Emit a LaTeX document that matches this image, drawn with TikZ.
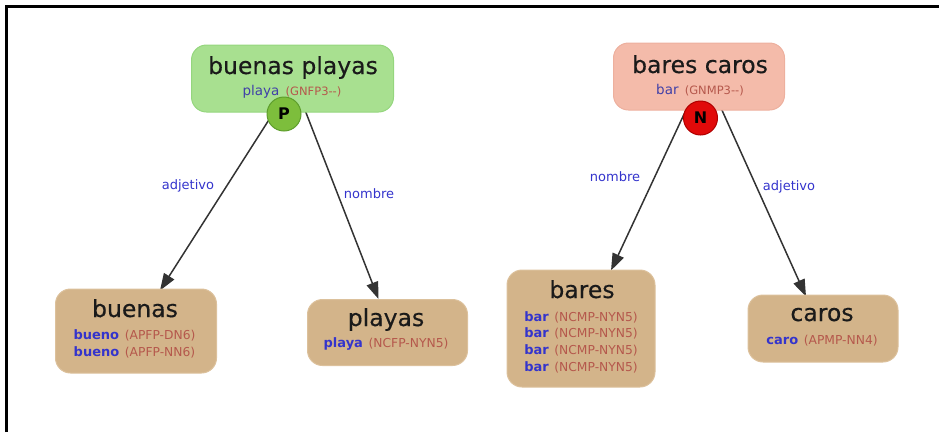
\documentclass[tikz,border=0pt]{standalone}
\usepackage{fontspec}
\setmainfont{DejaVu Sans}
\usetikzlibrary{arrows.meta,calc}
\definecolor{gfill}{HTML}{A8E090}
\definecolor{gdraw}{HTML}{95D67E}
\definecolor{pfill}{HTML}{7DBE3C}
\definecolor{pdraw}{HTML}{5E9E2C}
\definecolor{sfill}{HTML}{F4BBAA}
\definecolor{sdraw}{HTML}{EDB09E}
\definecolor{nfill}{HTML}{E10A0A}
\definecolor{ndraw}{HTML}{B00000}
\definecolor{tfill}{HTML}{D3B48A}
\definecolor{tdraw}{HTML}{DCC19C}
\definecolor{wblue}{HTML}{3434CC}
\definecolor{wtop}{HTML}{4040A8}
\definecolor{wcode}{HTML}{B5584C}
\definecolor{ttl}{HTML}{1A1A1A}
\definecolor{edgec}{HTML}{333333}
\newfontfamily\ttlfont[FakeBold=0.4]{DejaVu Sans}
\pgfdeclarelayer{bg}
\pgfsetlayers{bg,main}
\tikzset{
 box/.style={rectangle, rounded corners=15pt, line width=1pt, inner sep=0pt},
 ttlt/.style={anchor=base, text=ttl, font=\ttlfont\fontsize{23.5}{26}\selectfont, inner sep=0pt},
 subt/.style={anchor=base, inner sep=0pt, font=\fontsize{12.5}{14}\selectfont},
 circ/.style={circle, minimum size=34pt, inner sep=0pt, line width=1pt, text=black, font=\fontsize{16}{18}\selectfont\bfseries},
 rel/.style={text=wblue, font=\fontsize{13}{15}\selectfont, inner sep=0pt},
 conn/.style={draw=edgec, line width=1.5pt, -{Triangle[length=17pt,width=12pt]}},
}
\newcommand{\wl}[2]{{\color{wblue}\bfseries\fontsize{13}{15}\selectfont #1}\hspace{0.45em}{\color{wcode}\fontsize{12.3}{14}\selectfont (#2)}}
\newcommand{\wt}[2]{{\color{wtop}\fontsize{13.5}{15}\selectfont #1}\hspace{0.5em}{\color{wcode}\fontsize{11.5}{13}\selectfont (#2)}}
\begin{document}
\begin{tikzpicture}[x=1pt,y=-1pt]
\useasboundingbox (0,0) rectangle (939,432);
\draw[line width=2.5pt] (6.5,432) -- (6.5,6.5) -- (939,6.5);

% top nodes
\node[box, fill=gfill, draw=gdraw, minimum width=202pt, minimum height=67pt] (gp) at (292.5,78.5) {};
\node[ttlt] (gpt) at (293,74) {buenas playas};
\node[subt] (gps) at (292,95.5) {\wt{playa}{GNFP3-{}-}};
\node[circ, fill=pfill, draw=pdraw] (P) at (284,114) {P};

\node[box, fill=sfill, draw=sdraw, minimum width=171pt, minimum height=67pt] (bc) at (699,76.5) {};
\node[ttlt] (bct) at (700,73) {bares caros};
\node[subt] (bcs) at (700,94) {\wt{bar}{GNMP3-{}-}};
\node[circ, fill=nfill, draw=ndraw] (N) at (700.5,118) {N};

% leaf nodes
\node[box, fill=tfill, draw=tdraw, minimum width=161pt, minimum height=84pt] (buenas) at (136,331) {};
\node[ttlt] (buenast) at (135,317) {buenas};
\node[subt] (buenas1) at (134.5,339.5) {\wl{bueno}{APFP-DN6}};
\node[subt] (buenas2) at (134.5,356.5) {\wl{bueno}{APFP-NN6}};

\node[box, fill=tfill, draw=tdraw, minimum width=160pt, minimum height=66pt] (playas) at (387.5,332.5) {};
\node[ttlt] (playast) at (386,326) {playas};
\node[subt] (playas1) at (386,347.5) {\wl{playa}{NCFP-NYN5}};

\node[box, fill=tfill, draw=tdraw, minimum width=148pt, minimum height=117pt] (bares) at (581,328.5) {};
\node[ttlt] (barest) at (582,298) {bares};
\node[subt] (bares1) at (581,321.5) {\wl{bar}{NCMP-NYN5}};
\node[subt] (bares2) at (581,337.5) {\wl{bar}{NCMP-NYN5}};
\node[subt] (bares3) at (581,354) {\wl{bar}{NCMP-NYN5}};
\node[subt] (bares4) at (581,371) {\wl{bar}{NCMP-NYN5}};

\node[box, fill=tfill, draw=tdraw, minimum width=150pt, minimum height=67pt] (caros) at (823,328.5) {};
\node[ttlt] (carost) at (822,321) {caros};
\node[subt] (caros1) at (822,344.5) {\wl{caro}{APMP-NN4}};

% edge labels
\node[rel] (l1) at (188,186) {adjetivo};
\node[rel] (l2) at (369,194) {nombre};
\node[rel] (l3) at (615,177) {nombre};
\node[rel] (l4) at (789,187) {adjetivo};

% connector start points (hidden under boxes/circles)
\coordinate (pl) at (272,115);
\coordinate (pr) at (303,105);
\coordinate (nl) at (686,110);
\coordinate (nr) at (721,108);

\begin{pgfonlayer}{bg}
\draw[conn] (pl) -- ($(buenas.north)+(24,2)$);
\draw[conn] (pr) -- ($(playas.north)+(-9,0)$);
\draw[conn] (nl) -- ($(bares.north)+(30,1)$);
\draw[conn] (nr) -- ($(caros.north)+(-17,2)$);
\end{pgfonlayer}
\end{tikzpicture}
\end{document}
